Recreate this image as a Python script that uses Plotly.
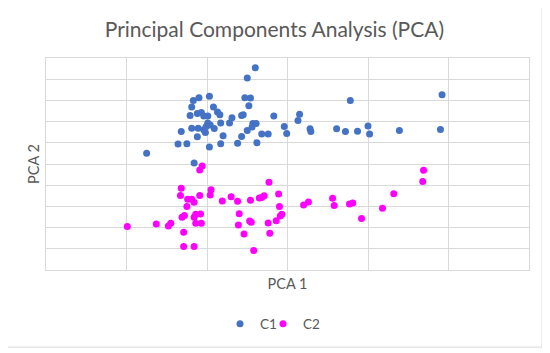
import plotly.graph_objects as go

# Cluster C1 (blue)
c1_x = [-0.40, -0.50, 1.92, 0.78, -0.97, -1.10, -1.17, -0.53, -0.46, -0.48,
        -1.19, -0.92, -0.87, -0.84, -1.21, -1.12, -1.07, -1.04, -0.99, -0.69,
        -0.57, -0.55, -0.17, 0.15, 0.13, -0.72, -0.83, -0.99, -0.96, -0.43,
        -0.39, -0.44, -0.50, -1.19, -1.11, -1.01, -1.04, -0.91, -1.02, -1.32,
        -0.04, -0.01, 0.28, 0.29, 0.61, 0.72, 0.87, 1.00, 1.02, 1.39,
        1.90, -0.32, -0.24, -0.57, -0.80, -1.12, -1.36, -1.25, -0.83, -0.62,
        -0.38, -0.97, -1.75, -1.16]
c1_y = [4.54, 4.06, 3.27, 3.00, 3.19, 3.12, 3.00, 3.12, 3.11, 2.75,
        2.69, 2.69, 2.45, 2.32, 2.29, 2.38, 2.43, 2.27, 2.27, 2.18,
        2.29, 2.32, 2.27, 2.35, 2.05, 1.93, 1.93, 1.93, 1.84, 1.91,
        1.91, 1.74, 1.58, 1.69, 1.69, 1.77, 1.61, 1.67, 1.49, 1.53,
        1.77, 1.44, 1.66, 1.53, 1.66, 1.53, 1.55, 1.79, 1.41, 1.58,
        1.63, 1.41, 1.41, 1.30, 1.33, 1.28, 0.94, 0.95, 0.95, 0.98,
        1.00, 0.80, 0.51, 0.05]

# Cluster C2 (magenta)
c2_x = [-1.06, -1.09, 1.69, 1.68, -0.23, -1.32, -0.95, -1.33, -1.09, -0.96,
        -0.11, -0.70, -0.35, -0.32, -0.29, 1.32, -1.24, -1.19, -1.16, -0.81,
        -0.62, -0.46, 0.56, 0.26, 0.20, 0.58, 0.77, 0.81, 1.18, -1.25,
        -0.10, -0.60, -1.14, -1.08, -1.28, -1.31, -1.16, -0.07, -0.09, -0.14,
        0.92, -1.99, -1.63, -1.48, -1.45, -1.14, -1.07, -0.61, -0.47, -0.45,
        -0.24, -1.29, -0.54, -0.22, -1.29, -1.16, -0.42]
c2_y = [-0.10, -0.28, -0.29, -0.83, -0.86, -1.14, -1.21, -1.49, -1.49, -1.46,
        -1.41, -1.54, -1.60, -1.58, -1.50, -1.40, -1.66, -1.66, -1.80, -1.74,
        -1.76, -1.71, -1.61, -1.79, -1.93, -1.96, -1.89, -1.84, -2.09, -2.01,
        -2.01, -2.35, -2.37, -2.36, -2.43, -2.51, -2.51, -2.37, -2.45, -2.68,
        -2.57, -2.95, -2.83, -2.93, -2.79, -2.79, -2.80, -2.88, -2.69, -2.75,
        -2.78, -3.22, -3.30, -3.27, -3.89, -3.89, -4.08]

series_names = ["C1", "C2"]
title_text = "Principal Components Analysis (PCA)"
x_title = "PCA 1"
y_title = "PCA 2"

FONT = "Lato"
GRID = "#D9D9D9"
TXT = "#595959"

# the page body adds an 8px offset; figure is sized to compensate
W, H = 542, 345

fig = go.Figure()
fig.add_trace(go.Scatter(x=c1_x, y=c1_y, mode="markers", name=series_names[0],
                         marker=dict(color="#4472C4", size=7), legend="legend"))
fig.add_trace(go.Scatter(x=c2_x, y=c2_y, mode="markers", name=series_names[1],
                         marker=dict(color="#FF00FF", size=7), legend="legend2"))

leg_common = dict(orientation="h", xanchor="left", y=-0.255, yanchor="middle",
                  font=dict(family=FONT, size=13.5, color=TXT), itemwidth=30,
                  bgcolor="rgba(0,0,0,0)")

fig.update_layout(
    width=W, height=H,
    margin=dict(l=38, r=21, t=50, b=83),
    paper_bgcolor="white", plot_bgcolor="white",
    title=dict(text=title_text, x=266.4 / W, xref="container", xanchor="center",
               y=1 - 22 / H, yref="container", yanchor="middle",
               font=dict(family=FONT, size=21, color=TXT)),
    legend=dict(x=(220 - 46) / 483, **leg_common),
    legend2=dict(x=(263 - 46) / 483, **leg_common),
    showlegend=True,
    shapes=[dict(type="rect", xref="paper", yref="paper",
                 x0=(7 - 46) / 483, x1=(542 - 46) / 483,
                 y0=(270 - 347) / 211.7, y1=(270 - 6) / 211.7,
                 line=dict(color=GRID, width=1), layer="below")],
)
fig.update_xaxes(range=[-3, 3], dtick=1, showgrid=True, gridcolor=GRID, gridwidth=1,
                 showline=True, linecolor=GRID, mirror=True, zeroline=False,
                 showticklabels=False, ticks="",
                 title=dict(text=x_title, font=dict(family=FONT, size=14.5, color=TXT),
                            standoff=8))
fig.update_yaxes(range=[-5, 5], dtick=1, showgrid=True, gridcolor=GRID, gridwidth=1,
                 showline=True, linecolor=GRID, mirror=True, zeroline=False,
                 showticklabels=False, ticks="",
                 title=dict(text=y_title, font=dict(family=FONT, size=14.5, color=TXT),
                            standoff=1))

fig.write_html("out.html")
